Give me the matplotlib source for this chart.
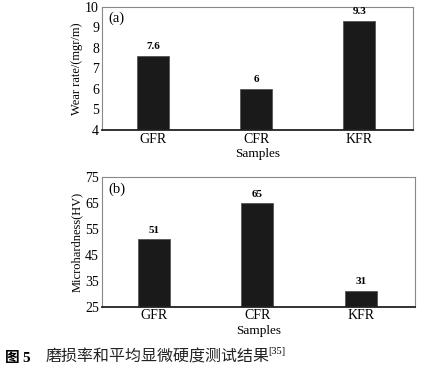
import numpy as np
import matplotlib.pyplot as plt

samples = ['GFR', 'CFR', 'KFR']
wear_rate = [7.6, 6, 9.3]
wear_labels = ['7.6', '6', '9.3']
hardness = [51, 65, 31]
hardness_labels = ['51', '65', '31']

serif = 'Liberation Serif'
cjk = ['Noto Sans CJK SC', 'DejaVu Sans']
fig = plt.figure(figsize=(4.21, 3.69), dpi=100)

def panel(rect, vals, labels, ylim, yticks, ylabel, tag, lab_off):
    ax = fig.add_axes(rect)
    x = np.arange(len(samples))
    ax.bar(x, [v - ylim[0] for v in vals], bottom=ylim[0], width=0.31,
           color='#1a1a1a', edgecolor='#555555', linewidth=0.6)
    for xi, v, t in zip(x, vals, labels):
        ax.text(xi, v + lab_off, t, ha='center', va='bottom', family=serif,
                fontweight='bold', fontsize=8)
    ax.set_xlim(-0.5, 2.52)
    ax.set_ylim(*ylim)
    ax.set_yticks(yticks)
    ax.set_xticks(x)
    ax.set_xticklabels(samples)
    for s in ['top', 'left', 'right']:
        ax.spines[s].set_color('#888888')
        ax.spines[s].set_linewidth(0.8)
    ax.spines['bottom'].set_color('#222222')
    ax.spines['bottom'].set_linewidth(1.3)
    ax.tick_params(length=0, labelsize=10, pad=2)
    for lab in ax.get_xticklabels() + ax.get_yticklabels():
        lab.set_family(serif)
    ax.set_xlabel('Samples', family=serif, fontsize=9.5, labelpad=2)
    ax.set_ylabel(ylabel, family=serif, fontsize=9, labelpad=1.5)
    ax.text(0.02, 0.96, tag, transform=ax.transAxes, ha='left', va='top',
            family=serif, fontsize=10.5)
    return ax

panel([0.242, 0.648, 0.739, 0.333], wear_rate, wear_labels, (4, 10),
      np.arange(4, 11, 1), 'Wear rate/(mgr/m)', '(a)', 0.25)
panel([0.242, 0.169, 0.743, 0.350], hardness, hardness_labels, (25, 75),
      np.arange(25, 76, 10), 'Microhardness(HV)', '(b)', 1.8)

fig.text(0.012, 0.02, '图', family=cjk, fontweight='bold', fontsize=10.5,
         va='baseline')
fig.text(0.052, 0.02, '5', family=serif, fontweight='bold', fontsize=11,
         va='baseline')
fig.text(0.108, 0.02, '磨损率和平均显微硬度测试结果', family=cjk,
         fontsize=11.5, va='baseline', color='#222222')
fig.text(0.636, 0.042, '[35]', family=serif, fontsize=7.5, va='baseline')

fig.savefig('out.png', dpi=100)
